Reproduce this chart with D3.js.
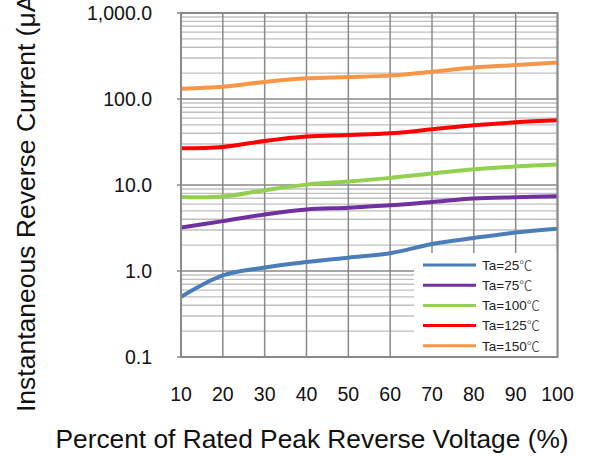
<!DOCTYPE html>
<html>
<head>
<meta charset="utf-8">
<script src="https://cdn.jsdelivr.net/npm/d3@7"></script>
<style>
  body { margin: 0; background: #fff; }
  svg { display: block; font-family: "Liberation Sans", Arial, sans-serif; }
</style>
</head>
<body>
<div id="chart"></div>
<script>
// values
var voltagePct = [10, 20, 30, 40, 50, 60, 70, 80, 90, 100];
var ta25  = [0.50, 0.89, 1.10, 1.27, 1.43, 1.61, 2.06, 2.42, 2.80, 3.10];
var ta75  = [3.2, 3.8, 4.55, 5.2, 5.45, 5.8, 6.35, 6.95, 7.2, 7.4];
var ta100 = [7.25, 7.35, 8.7, 10.1, 11.0, 12.1, 13.6, 15.2, 16.4, 17.3];
var ta125 = [26.7, 27.7, 32.5, 36.6, 38.1, 39.9, 44.4, 49.5, 53.6, 56.5];
var ta150 = [132, 139, 158, 174, 180, 187, 208, 232, 248, 265];
var seriesTemps = ['25', '75', '100', '125', '150'];
var yTicks = [0.1, 1, 10, 100, 1000];

var seriesValues = [ta25, ta75, ta100, ta125, ta150];
var colors = ['#4A7EBB', '#7030A0', '#92D050', '#FF0000', '#F79646'];

var svgWidth = 591, svgHeight = 457;
var margin = { top: 13, right: 33.5, bottom: 100, left: 181 };
var width = svgWidth - margin.left - margin.right;
var height = svgHeight - margin.top - margin.bottom;

var svg = d3.select('#chart').append('svg')
    .attr('width', svgWidth)
    .attr('height', svgHeight);

var g = svg.append('g')
    .attr('transform', 'translate(' + margin.left + ',' + margin.top + ')');

var x = d3.scaleLinear().domain([10, 100]).range([0, width]);
var y = d3.scaleLog().domain([0.1, 1000]).range([height, 0]);

// minor horizontal grid (2..9 of each decade)
var minor = [];
for (var d = 0.1; d < 1000; d *= 10) {
    for (var m = 2; m <= 9; m++) minor.push(d * m);
}
g.selectAll('.minor').data(minor).enter().append('line')
    .attr('x1', 0).attr('x2', width)
    .attr('y1', function (v) { return y(v); })
    .attr('y2', function (v) { return y(v); })
    .attr('stroke', '#c0c0c0')
    .attr('stroke-width', 1.4);

// major horizontal grid
g.selectAll('.major').data(yTicks).enter().append('line')
    .attr('x1', -4).attr('x2', width)
    .attr('y1', function (v) { return y(v); })
    .attr('y2', function (v) { return y(v); })
    .attr('stroke', '#8a8a8a')
    .attr('stroke-width', 1.5);

// vertical grid
g.selectAll('.vgrid').data(voltagePct).enter().append('line')
    .attr('x1', function (v) { return x(v); })
    .attr('x2', function (v) { return x(v); })
    .attr('y1', 0).attr('y2', height)
    .attr('stroke', '#8a8a8a')
    .attr('stroke-width', 1.5);

g.append('clipPath').attr('id', 'plotClip')
    .append('rect').attr('width', width).attr('height', height);

var line = d3.line()
    .x(function (d, i) { return x(voltagePct[i]); })
    .y(function (d) { return y(d); })
    .curve(d3.curveCatmullRom.alpha(0.5));

g.append('g').attr('clip-path', 'url(#plotClip)')
    .selectAll('path').data(seriesValues).enter().append('path')
    .attr('d', line)
    .attr('fill', 'none')
    .attr('stroke', function (d, i) { return colors[i]; })
    .attr('stroke-width', 4)
    .attr('stroke-linecap', 'butt');

// legend
var legend = g.append('g').attr('transform', 'translate(' + (width - 143.5) + ',' + (height - 104) + ')');
legend.append('rect').attr('width', 143.5).attr('height', 104).attr('fill', '#fff');
var keys = legend.selectAll('.key').data(seriesTemps).enter().append('g')
    .attr('transform', function (d, i) { return 'translate(0,' + (12 + i * 20.2) + ')'; });
keys.append('line')
    .attr('x1', 9).attr('x2', 62)
    .attr('stroke', function (d, i) { return colors[i]; })
    .attr('stroke-width', 3);
var keyText = keys.append('text')
    .attr('x', 68).attr('dy', '0.35em')
    .attr('font-size', 13.5)
    .attr('fill', '#222');
keyText.append('tspan').text(function (d) { return 'Ta=' + d; });
keyText.append('tspan')
    .attr('font-family', '"Noto Sans CJK SC", "Noto Sans CJK JP", sans-serif')
    .attr('font-size', 13)
    .attr('font-weight', 300)
    .text('℃');

// axis frame
g.append('rect')
    .attr('width', width).attr('height', height)
    .attr('fill', 'none')
    .attr('stroke', '#8a8a8a')
    .attr('stroke-width', 2);

// tick labels
var fmt = d3.format(',.1f');
g.selectAll('.ylab').data(yTicks).enter().append('text')
    .attr('x', -29).attr('y', function (v) { return y(v); })
    .attr('dy', '0.36em')
    .attr('text-anchor', 'end')
    .attr('font-size', 19.5)
    .attr('fill', '#111')
    .text(function (v) { return fmt(v); });

g.selectAll('.xlab').data(voltagePct).enter().append('text')
    .attr('x', function (v) { return x(v); })
    .attr('y', height + 44)
    .attr('text-anchor', 'middle')
    .attr('font-size', 19.5)
    .attr('fill', '#111')
    .text(function (v) { return v; });

// axis titles
svg.append('text')
    .attr('x', 312).attr('y', 448)
    .attr('text-anchor', 'middle')
    .attr('font-size', 26.3)
    .attr('fill', '#111')
    .text('Percent of Rated Peak Reverse Voltage (%)');

// the reference cuts this title off at the top edge
svg.append('text')
    .attr('transform', 'translate(35,412) rotate(-90)')
    .attr('text-anchor', 'start')
    .attr('font-size', 26.5)
    .attr('fill', '#111')
    .text('Instantaneous Reverse Current (μA)');
</script>
</body>
</html>
